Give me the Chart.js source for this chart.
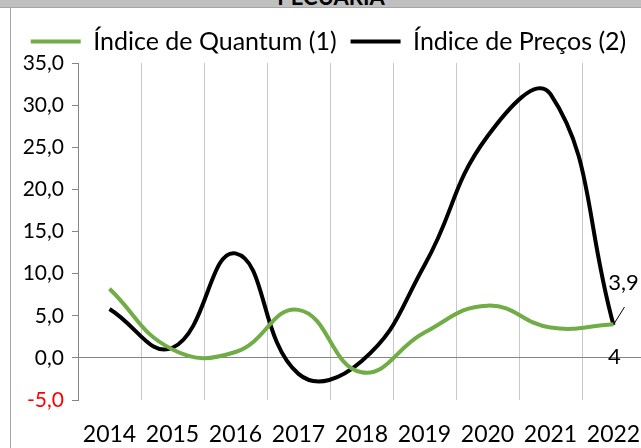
<!DOCTYPE html>
<html lang="pt">
<head>
<meta charset="utf-8">
<title>Pecuária</title>
<script src="https://cdn.jsdelivr.net/npm/chart.js@4/dist/chart.umd.min.js"></script>
<style>
  html, body { margin: 0; padding: 0; background: #fff; }
  body { width: 641px; height: 448px; overflow: hidden; position: relative; }
  #header {
    position: absolute; left: 0; top: 0; width: 641px; height: 7px;
    background: #c0c0c0; border-bottom: 1px solid #a6a6a6; overflow: hidden;
  }
  #header span {
    position: absolute; left: 0; width: 662px; bottom: -1px; text-align: center;
    font: bold 22px Lato, sans-serif; color: #000; line-height: 22px;
  }
  #frame {
    position: absolute; left: 10px; top: 8px; width: 640px; height: 440px;
    border-left: 1px solid #a6a6a6;
  }
  #wrap { position: absolute; left: 1px; top: 0; width: 633px; height: 440px; }
</style>
</head>
<body>
<div id="header"><span>PECUÁRIA</span></div>
<div id="frame">
  <div id="wrap"><canvas id="chart"></canvas></div>
</div>
<script>
// Data
const years = ["2014", "2015", "2016", "2017", "2018", "2019", "2020", "2021", "2022"]
const quantum = [8.2, 1.0, 0.7, 5.7, -1.7, 3.0, 6.2, 3.6, 4.0]
const precos = [5.8, 1.2, 12.4, -1.9, -0.4, 11.0, 26.3, 31.3, 3.9]
const seriesNames = ["Índice de Quantum (1)", "Índice de Preços (2)"]
const yTicks = { min: -5, max: 35, step: 5 }

const GREEN = "#70ad47"
const AXIS_GRAY = "#868686"

// Format numbers the Brazilian way (comma decimal)
function fmt(v) {
  return v.toLocaleString("pt-BR")
}

// Labels on the last point of each series, with a small leader line
const endLabels = {
  id: "endLabels",
  afterDatasetsDraw(chart) {
    const ctx = chart.ctx
    const last = years.length - 1
    const pQ = chart.getDatasetMeta(0).data[last]
    const pP = chart.getDatasetMeta(1).data[last]
    ctx.save()
    ctx.font = "22px Lato, sans-serif"
    ctx.fillStyle = "#000"
    ctx.textAlign = "center"
    ctx.textBaseline = "middle"
    ctx.fillText(fmt(quantum[last]), pQ.x + 1, pQ.y + 33)
    ctx.fillText(fmt(precos[last]), pP.x + 10, pP.y - 42)
    ctx.strokeStyle = "#000"
    ctx.lineWidth = 1
    ctx.beginPath()
    ctx.moveTo(pP.x + 1, pP.y - 2)
    ctx.lineTo(pP.x + 11, pP.y - 18)
    ctx.stroke()
    ctx.restore()
  },
}

const ctx = document.getElementById("chart").getContext("2d")

new Chart(ctx, {
  type: "line",
  data: {
    labels: years,
    datasets: [
      {
        label: seriesNames[0],
        data: quantum,
        borderColor: GREEN,
        backgroundColor: GREEN,
        borderWidth: 4,
        tension: 0.45,
        pointRadius: 0,
        fill: false,
        pointStyle: "line",
      },
      {
        label: seriesNames[1],
        data: precos,
        borderColor: "#000",
        backgroundColor: "#000",
        borderWidth: 4,
        tension: 0.45,
        pointRadius: 0,
        fill: false,
        pointStyle: "line",
      },
    ],
  },
  options: {
    responsive: true,
    maintainAspectRatio: false,
    animation: false,
    layout: {
      padding: { top: 7, left: 0, right: 0, bottom: 0 },
    },
    plugins: {
      legend: {
        display: true,
        position: "top",
        maxHeight: 48,
        labels: {
          usePointStyle: true,
          pointStyleWidth: 50,
          padding: 14,
          color: "#000",
          font: { family: "Lato", size: 25 },
        },
      },
      tooltip: { enabled: false },
    },
    scales: {
      x: {
        offset: true,
        grid: {
          offset: true,
          color: "#c8c8c8",
          lineWidth: 1,
          drawTicks: false,
        },
        border: { display: false },
        ticks: {
          color: "#000",
          padding: 21,
          maxRotation: 0,
          autoSkip: false,
          font: { family: "Lato", size: 23 },
        },
        afterFit: (scale) => {
          scale.height = 48
          scale.paddingLeft = 0
          scale.paddingRight = 0
        },
      },
      y: {
        min: yTicks.min,
        max: yTicks.max,
        ticks: {
          stepSize: yTicks.step,
          padding: 8,
          color: (c) => (c.tick && c.tick.value < 0 ? "#ff0000" : "#000"),
          font: { family: "Lato", size: 21 },
          callback: (v) => v.toFixed(1).replace(".", ","),
        },
        grid: {
          drawOnChartArea: true,
          color: (c) => (c.tick && c.tick.value === 0 ? AXIS_GRAY : "rgba(0,0,0,0)"),
          tickColor: AXIS_GRAY,
          tickLength: 6,
        },
        border: { display: true, color: AXIS_GRAY, width: 1 },
        afterFit: (scale) => {
          scale.width = 66
        },
      },
    },
  },
  plugins: [endLabels],
})
</script>
</body>
</html>
